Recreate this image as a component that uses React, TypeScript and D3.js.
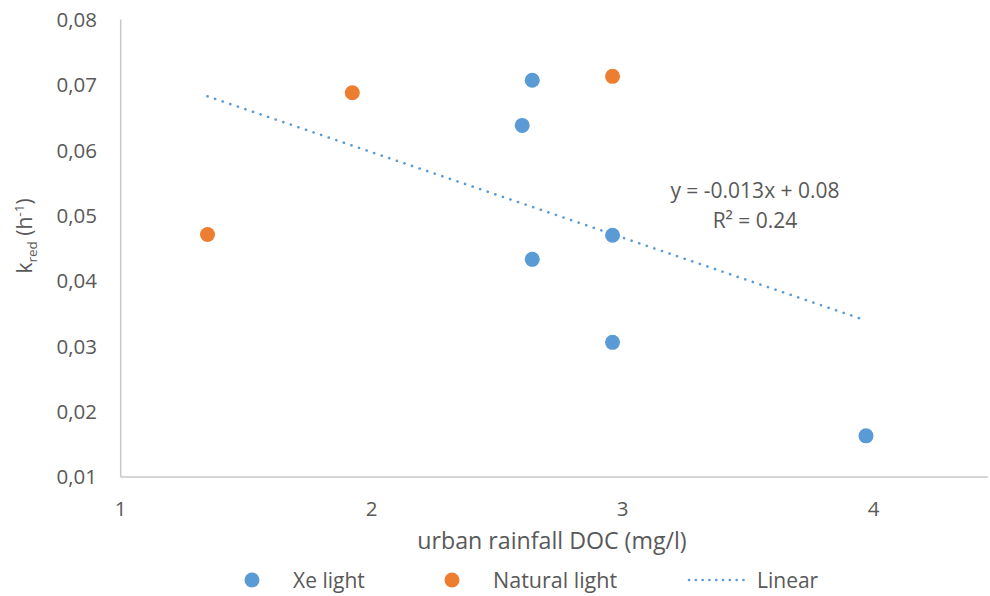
import React from "react";
import * as d3 from "d3";

const xeX = [2.64, 2.60, 2.96, 2.64, 2.96, 3.97];
const xeY = [0.0707, 0.0638, 0.0470, 0.0433, 0.0306, 0.0163];
const natX = [1.346, 1.923, 2.96];
const natY = [0.0471, 0.0688, 0.0713];
const xTicks = [1, 2, 3, 4];
const yTicks = [0.01, 0.02, 0.03, 0.04, 0.05, 0.06, 0.07, 0.08];
const equationText = "y = -0.013x + 0.08";
const r2Text = "R² = 0.24";

const W = 990, H = 596;
const BLUE = "#5B9BD5", ORANGE = "#ED7D31", TXT = "#595959", AX = "#C8C8C8";
const FONT = "'Open Sans', sans-serif";

export default function App() {
  const x = d3.scaleLinear().domain([1, 4.5]).range([120.7, 999]);
  const y = d3.scaleLinear().domain([0.01, 0.08]).range([477, 19.5]);

  const allX = [...xeX, ...natX];
  const allY = [...xeY, ...natY];
  const mx = d3.mean(allX)!, my = d3.mean(allY)!;
  let sxy = 0, sxx = 0;
  allX.forEach((v, i) => { sxy += (v - mx) * (allY[i] - my); sxx += (v - mx) ** 2; });
  const slope = sxy / sxx, icpt = my - slope * mx;
  const [x0, x1] = d3.extent(allX) as [number, number];
  const line = d3.line<number>().x(d => x(d)).y(d => y(icpt + slope * d));

  return (
    <svg width={W} height={H} style={{ position: "absolute", left: 0, top: 0, background: "#fff" }} fontFamily={FONT}>
      {/* axes */}
      <line x1={x(1)} x2={x(1)} y1={y(0.08)} y2={y(0.01)} stroke={AX} strokeWidth={1.5} />
      <line x1={x(1)} x2={W - 2} y1={y(0.01)} y2={y(0.01)} stroke={AX} strokeWidth={1.5} />
      {yTicks.map(t => (
        <text key={t} x={97} y={y(t)} dy="0.36em" textAnchor="end" fontSize={20.5} fill={TXT}>
          {t.toFixed(2).replace(".", ",")}
        </text>
      ))}
      {xTicks.map(t => (
        <text key={t} x={x(t)} y={516} textAnchor="middle" fontSize={20.5} fill={TXT}>{t}</text>
      ))}
      <text x={552} y={549} textAnchor="middle" fontSize={23.2} fill={TXT}>urban rainfall DOC (mg/l)</text>
      <text transform={`translate(32,236) rotate(-90)`} textAnchor="middle" fontSize={21} fill={TXT}>
        k<tspan fontSize={13.5} dy={5}>red</tspan><tspan dy={-5}> (h</tspan><tspan fontSize={13.5} dy={-8}>-1</tspan><tspan dy={8}>)</tspan>
      </text>

      {/* trendline */}
      <path d={line([x0, x1])!} fill="none" stroke={BLUE} strokeWidth={2.6} strokeLinecap="round" strokeDasharray="0.1 7.9" />

      {/* points */}
      {xeX.map((v, i) => <circle key={"x" + i} cx={x(v)} cy={y(xeY[i])} r={7.5} fill={BLUE} />)}
      {natX.map((v, i) => <circle key={"n" + i} cx={x(v)} cy={y(natY[i])} r={7.5} fill={ORANGE} />)}

      {/* equation */}
      <text x={755} y={198} textAnchor="middle" fontSize={21} fill={TXT}>{equationText}</text>
      <text x={755} y={228} textAnchor="middle" fontSize={21} fill={TXT}>{r2Text}</text>

      {/* legend */}
      <circle cx={252} cy={580} r={7.5} fill={BLUE} />
      <text x={293} y={580} dy="0.36em" fontSize={21} fill={TXT}>Xe light</text>
      <circle cx={452} cy={580} r={7.5} fill={ORANGE} />
      <text x={493} y={580} dy="0.36em" fontSize={21.5} fill={TXT}>Natural light</text>
      <line x1={689} x2={750} y1={580} y2={580} stroke={BLUE} strokeWidth={2.6} strokeLinecap="round" strokeDasharray="0.1 6.7" />
      <text x={757} y={580} dy="0.36em" fontSize={21} fill={TXT}>Linear</text>
    </svg>
  );
}
